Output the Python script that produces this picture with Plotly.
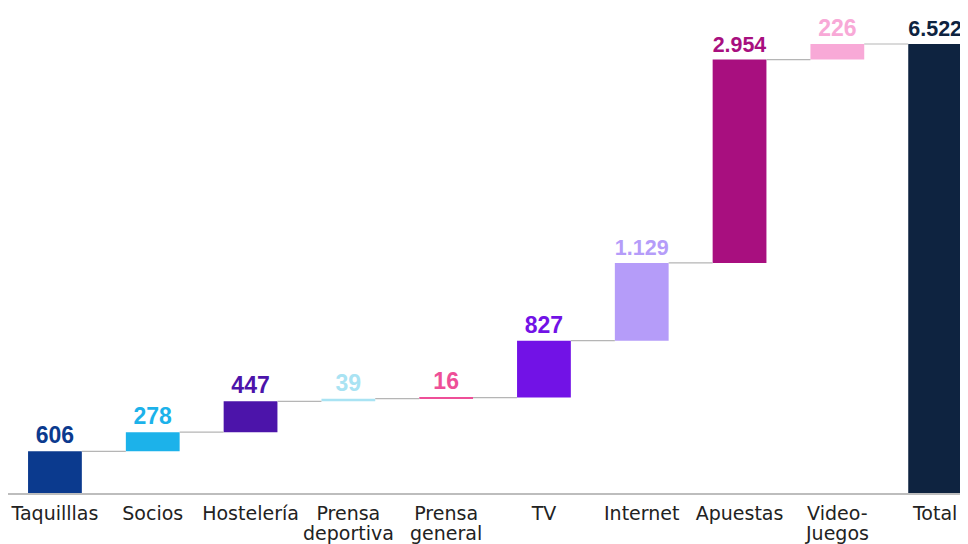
import plotly.graph_objects as go

# --- data ---
categories = ['Taquilllas', 'Socios', 'Hostelería', 'Prensa', 'Prensa',
              'TV', 'Internet', 'Apuestas', 'Video-', 'Total']
categories_line2 = ['', '', '', 'deportiva', 'general', '', '', '', 'Juegos', '']
values = [606, 278, 447, 39, 16, 827, 1129, 2954, 226, 6522]
labels = ['606', '278', '447', '39', '16', '827', '1.129', '2.954', '226', '6.522']
colors = ['#0b3a8e', '#1cb2ea', '#4c14aa', '#a9e3f3', '#ee4f98',
          '#7212e6', '#b59cf9', '#a80f7f', '#f8a9d7', '#0e2340']

# bases: running total for the steps, zero for the total bar
bases = []
run = 0
for v in values[:-1]:
    bases.append(run)
    run += v
bases.append(0)
tops = [b + v for b, v in zip(bases, values)]

xs = list(range(len(categories)))
bar_w = 0.55
tick_font = dict(family='DejaVu Sans, Liberation Sans', size=19, color='#222222')

fig = go.Figure()

# connector lines between bars
cx, cy = [], []
for i in range(len(values) - 1):
    cx += [i + bar_w / 2, i + 1 - bar_w / 2, None]
    cy += [tops[i], tops[i], None]
fig.add_trace(go.Scatter(x=cx, y=cy, mode='lines',
                         line=dict(color='#b5b5b5', width=1.2),
                         hoverinfo='skip', showlegend=False))

fig.add_trace(go.Bar(
    x=xs, y=values, base=bases, width=bar_w,
    marker=dict(color=colors, line=dict(width=0)),
    text=labels, textposition='outside',
    textfont=dict(family='Liberation Sans, Arial', size=23, color=colors, weight='bold'),
    cliponaxis=False, showlegend=False,
))

# second line of the wrapped category names (tight leading like the original)
for i, t in enumerate(categories_line2):
    if t:
        fig.add_annotation(x=i, y=0, xref='x', yref='y', text=t, showarrow=False,
                           yanchor='top', yshift=-27, font=tick_font)

fig.update_layout(
    width=960, height=536,
    margin=dict(l=0, r=0, t=10, b=51),
    paper_bgcolor='white', plot_bgcolor='white',
    font=dict(family='Liberation Sans, Arial', color='#222222'),
    bargap=0.45,
)
fig.update_xaxes(
    range=[-0.48, 9.336], automargin=False,
    tickvals=xs, ticktext=categories,
    tickfont=tick_font,
    ticklabelstandoff=2,
    showline=True, linecolor='#bdbdbd', linewidth=1.5,
    showgrid=False, zeroline=False, ticks='',
)
fig.update_yaxes(
    range=[0, 6900], visible=False, showgrid=False, zeroline=False,
    automargin=False,
)

fig.write_html("out.html")
